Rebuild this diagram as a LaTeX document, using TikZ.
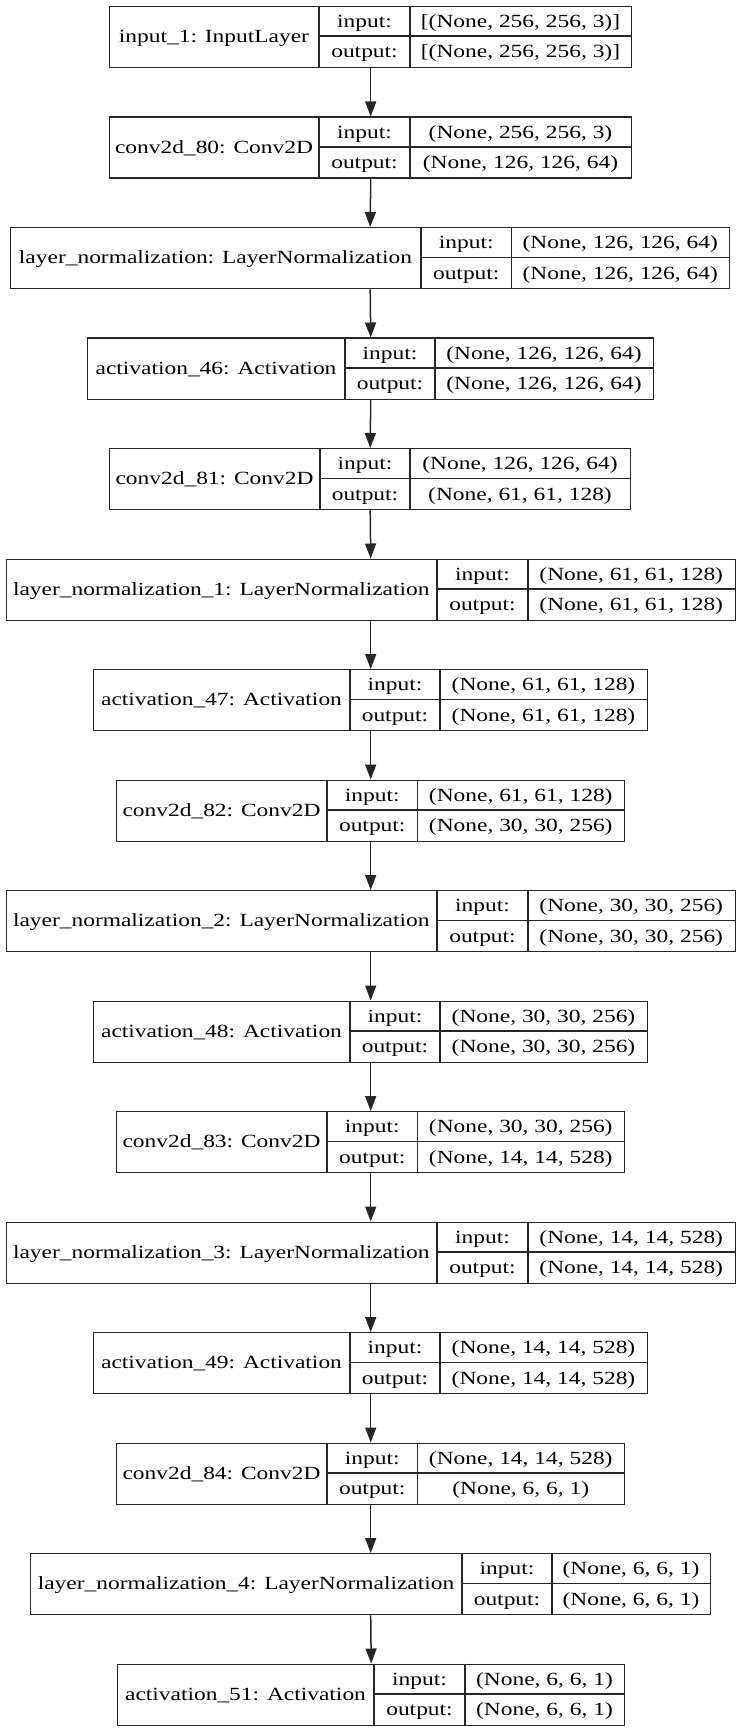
\documentclass[tikz,border=0pt]{standalone}
\usepackage{fontspec}
\setmainfont{Liberation Serif}[FakeStretch=1.26]
\usetikzlibrary{arrows.meta}
\tikzset{
  box/.style={draw=black!85, line width=0.7pt, minimum height=30.5pt, inner sep=0pt, fill=white},
  cell/.style={draw=black!85, line width=0.7pt},
  txt/.style={inner sep=0pt, anchor=base, font=\fontsize{9.3pt}{11pt}\selectfont},
  arr/.style={draw=black!85, line width=0.75pt, -{Triangle[length=7.5pt,width=5.5pt]}}
}
% name, top, left, d1, d2, right, title, input, output
\newcommand\layerbox[9]{%
  \node[box, minimum width={(#6-#3)*0.5pt}, anchor=north west] (#1) at (#3,#2) {};
  \draw[cell] (#4,#2) -- (#4,#2+61) (#5,#2) -- (#5,#2+61) (#4,#2+30.5) -- (#6,#2+30.5);
  \node[txt] (#1-t) at ({(#3+#4)/2},#2+30.5+6.3) {#7};
  \node[txt] (#1-il) at ({(#4+#5)/2},#2+15.25+6.3) {input:};
  \node[txt] (#1-ol) at ({(#4+#5)/2},#2+45.75+6.3) {output:};
  \node[txt] (#1-iv) at ({(#5+#6)/2},#2+15.25+6.3) {#8};
  \node[txt] (#1-ov) at ({(#5+#6)/2},#2+45.75+6.3) {#9};
}
\begin{document}
\begin{tikzpicture}[x=0.5pt,y=-0.5pt]
\useasboundingbox (0,0) rectangle (740,1733);
\fill[white] (0,0) rectangle (740,1733);
\layerbox{L1}{5.7}{109}{319}{410}{631}{input\_1: InputLayer}{[(None, 256, 256, 3)]}{[(None, 256, 256, 3)]}
\layerbox{L2}{116.5}{109}{319}{410}{631}{conv2d\_80: Conv2D}{(None, 256, 256, 3)}{(None, 126, 126, 64)}
\layerbox{L3}{227}{10}{421}{511.5}{729}{layer\_normalization: LayerNormalization}{(None, 126, 126, 64)}{(None, 126, 126, 64)}
\layerbox{L4}{337.5}{87}{345}{435}{653}{activation\_46: Activation}{(None, 126, 126, 64)}{(None, 126, 126, 64)}
\layerbox{L5}{448}{109}{320}{410}{630}{conv2d\_81: Conv2D}{(None, 126, 126, 64)}{(None, 61, 61, 128)}
\layerbox{L6}{558.5}{5.5}{437}{528}{734.5}{layer\_normalization\_1: LayerNormalization}{(None, 61, 61, 128)}{(None, 61, 61, 128)}
\layerbox{L7}{669}{93}{350}{440}{647}{activation\_47: Activation}{(None, 61, 61, 128)}{(None, 61, 61, 128)}
\layerbox{L8}{779.5}{116}{327}{417.5}{624}{conv2d\_82: Conv2D}{(None, 61, 61, 128)}{(None, 30, 30, 256)}
\layerbox{L9}{890}{5.5}{437}{528}{734.5}{layer\_normalization\_2: LayerNormalization}{(None, 30, 30, 256)}{(None, 30, 30, 256)}
\layerbox{L10}{1000.5}{93}{350}{440}{647}{activation\_48: Activation}{(None, 30, 30, 256)}{(None, 30, 30, 256)}
\layerbox{L11}{1111}{116}{327}{417.5}{624}{conv2d\_83: Conv2D}{(None, 30, 30, 256)}{(None, 14, 14, 528)}
\layerbox{L12}{1221.5}{5.5}{437}{528}{734.5}{layer\_normalization\_3: LayerNormalization}{(None, 14, 14, 528)}{(None, 14, 14, 528)}
\layerbox{L13}{1332}{93}{350}{440}{647}{activation\_49: Activation}{(None, 14, 14, 528)}{(None, 14, 14, 528)}
\layerbox{L14}{1442.5}{116}{327}{417.5}{624}{conv2d\_84: Conv2D}{(None, 14, 14, 528)}{(None, 6, 6, 1)}
\layerbox{L15}{1553}{30}{462}{552}{710}{layer\_normalization\_4: LayerNormalization}{(None, 6, 6, 1)}{(None, 6, 6, 1)}
\layerbox{L16}{1663.5}{117}{374}{465}{624}{activation\_51: Activation}{(None, 6, 6, 1)}{(None, 6, 6, 1)}
\foreach \a/\b in {L1/L2,L2/L3,L3/L4,L4/L5,L5/L6,L6/L7,L7/L8,L8/L9,L9/L10,L10/L11,L11/L12,L12/L13,L13/L14,L14/L15,L15/L16}
  \draw[arr] (\a.south) -- (\b.north);
\end{tikzpicture}
\end{document}
